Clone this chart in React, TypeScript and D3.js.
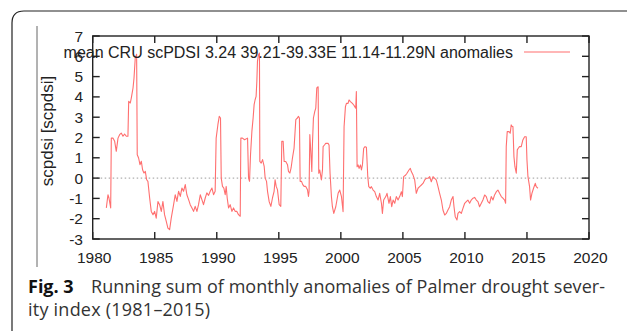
import React from "react";
import * as d3 from "d3";

// ---- data (decimal year, scPDSI running-sum anomaly) ----
const series1980s: [number, number][] = [
  [1981.10,-1.47],[1981.23,-0.82],[1981.31,-0.98],[1981.45,-1.47],[1981.50,1.97],[1981.63,1.97],[1981.77,1.81],[1981.90,1.32],
  [1982.04,1.97],[1982.17,2.14],[1982.30,2.22],[1982.44,2.06],[1982.57,2.17],[1982.71,2.06],[1982.84,2.06],[1982.90,3.78],
  [1983.03,3.70],[1983.11,3.94],[1983.25,4.44],[1983.33,4.93],[1983.43,5.92],[1983.54,6.1],[1983.59,1.15],[1983.70,0.99],
  [1983.81,0.66],[1983.92,0.83],[1984.02,0.41],[1984.13,0.25],[1984.24,0.33],[1984.35,-0.08],[1984.45,-0.16],[1984.59,-0.98],
  [1984.72,-1.64],[1984.86,-1.80],[1984.99,-1.64],[1985.12,-1.97],[1985.26,-1.15],[1985.39,-1.31],[1985.53,-1.64],[1985.66,-1.15],
  [1985.79,-1.80],[1985.93,-2.13],[1986.06,-2.46],[1986.20,-2.54],[1986.33,-1.97],[1986.52,-1.31],[1986.65,-0.82],[1986.79,-1.15],
  [1986.92,-0.65],[1987.06,-0.90],[1987.19,-0.49],[1987.32,-0.65],[1987.46,-0.32],[1987.59,-0.82],[1987.73,-1.06],[1987.86,-1.31],
  [1988.00,-1.47],[1988.13,-1.64],[1988.26,-1.39],[1988.40,-1.64],[1988.53,-1.31],[1988.67,-0.82],[1988.80,-1.06],[1988.93,-1.31],
  [1989.07,-0.98],[1989.20,-0.73],[1989.34,-0.85],[1989.47,-0.65],[1989.61,-0.49],[1989.74,-0.82],[1989.87,-0.65],[1989.95,1.97],
];
const series1990s: [number, number][] = [
  [1990.09,2.63],[1990.20,3.04],[1990.30,2.96],[1990.36,0.00],[1990.46,-0.41],[1990.57,-0.49],[1990.68,-0.82],[1990.76,-0.41],
  [1990.84,-0.98],[1990.95,-1.47],[1991.08,-1.31],[1991.22,-1.64],[1991.35,-1.47],[1991.48,-1.64],[1991.62,-1.64],[1991.75,-1.80],
  [1991.89,-1.88],[1991.94,1.97],[1992.07,1.97],[1992.24,1.89],[1992.48,1.97],[1992.56,0.00],[1992.64,-0.16],[1992.72,1.15],
  [1992.83,2.30],[1992.93,2.96],[1993.01,3.62],[1993.09,3.86],[1993.17,4.03],[1993.23,4.77],[1993.28,5.75],[1993.36,6.08],
  [1993.44,6.16],[1993.47,0.82],[1993.58,0.74],[1993.69,0.91],[1993.82,0.58],[1993.90,0.00],[1994.01,-0.16],[1994.09,-0.65],
  [1994.22,-1.15],[1994.36,-1.39],[1994.49,-0.98],[1994.62,-0.65],[1994.70,-0.08],[1994.79,-0.41],[1994.89,-0.57],[1995.03,-1.31],
  [1995.16,-1.39],[1995.24,1.81],[1995.35,1.81],[1995.43,0.82],[1995.56,0.82],[1995.70,0.66],[1995.78,0.33],[1995.89,0.25],
  [1995.99,0.50],[1996.10,0.99],[1996.23,1.48],[1996.37,2.88],[1996.50,2.96],[1996.58,3.04],[1996.66,2.96],[1996.72,-0.16],
  [1996.83,-0.16],[1996.93,-0.32],[1997.04,-0.41],[1997.17,-0.41],[1997.31,-0.57],[1997.39,-0.90],[1997.44,-0.65],[1997.50,2.14],
  [1997.58,1.32],[1997.66,0.33],[1997.71,1.65],[1997.79,2.96],[1997.90,3.29],[1997.98,3.45],[1998.06,4.44],[1998.17,4.50],
  [1998.22,0.24],[1998.30,0.40],[1998.43,-0.09],[1998.52,0.40],[1998.57,1.55],[1998.68,1.63],[1998.78,1.71],[1998.97,1.71],
  [1999.05,1.63],[1999.13,0.24],[1999.24,-0.91],[1999.32,-1.41],[1999.43,-1.74],[1999.59,-1.41],[1999.78,-0.75],[1999.91,-0.59],
];
const series2000s: [number, number][] = [
  [2000.05,-0.91],[2000.18,-1.65],[2000.26,2.53],[2000.37,3.52],[2000.45,3.68],[2000.58,3.68],[2000.66,3.85],[2000.77,3.77],
  [2000.93,3.68],[2001.04,3.60],[2001.12,3.52],[2001.20,3.44],[2001.25,4.26],[2001.31,0.56],[2001.39,0.65],[2001.47,0.48],
  [2001.58,0.65],[2001.66,0.40],[2001.74,0.65],[2001.84,1.47],[2001.95,1.55],[2002.06,1.52],[2002.17,0.07],[2002.25,-0.42],
  [2002.38,-0.50],[2002.46,-0.42],[2002.60,-0.59],[2002.73,-0.67],[2002.86,-0.91],[2003.00,-1.08],[2003.13,-0.75],[2003.27,-1.24],
  [2003.35,-1.74],[2003.45,-1.08],[2003.62,-0.91],[2003.72,-0.75],[2003.88,-1.24],[2003.99,-0.91],[2004.10,-1.41],[2004.21,-1.08],
  [2004.34,-1.24],[2004.47,-0.91],[2004.61,-1.08],[2004.74,-0.91],[2004.88,-0.67],[2004.96,-0.91],[2005.06,0.07],[2005.23,0.15],
  [2005.33,0.24],[2005.49,0.40],[2005.60,0.48],[2005.68,0.32],[2005.82,0.15],[2005.95,-0.09],[2006.08,-0.75],[2006.22,-0.50],
  [2006.35,-0.42],[2006.49,-0.34],[2006.62,-0.26],[2006.76,-0.09],[2006.89,-0.01],[2007.02,-0.01],[2007.16,0.07],[2007.29,-0.18],
  [2007.43,0.07],[2007.56,-0.01],[2007.69,-0.09],[2007.83,-0.42],[2007.96,-0.75],[2008.10,-1.08],[2008.23,-1.57],[2008.37,-1.82],
  [2008.50,-1.74],[2008.63,-1.57],[2008.77,-1.41],[2008.90,-1.08],[2009.04,-0.91],[2009.12,-1.41],[2009.22,-1.90],[2009.36,-2.06],
  [2009.44,-1.74],[2009.57,-1.65],[2009.71,-1.74],[2009.84,-1.49],[2009.98,-1.24],
];
const series2010s: [number, number][] = [
  [2010.11,-1.16],[2010.24,-1.08],[2010.38,-1.24],[2010.51,-1.08],[2010.65,-0.99],[2010.78,-0.95],[2010.92,-1.08],[2011.05,-1.16],
  [2011.18,-1.41],[2011.32,-1.24],[2011.45,-1.08],[2011.59,-0.83],[2011.72,-0.91],[2011.85,-1.16],[2011.99,-1.24],[2012.12,-0.91],
  [2012.26,-1.08],[2012.39,-0.83],[2012.53,-0.67],[2012.66,-0.59],[2012.79,-0.75],[2012.93,-0.91],[2013.06,-0.99],[2013.20,-1.08],
  [2013.28,-1.24],[2013.33,1.55],[2013.41,2.29],[2013.55,2.29],[2013.65,2.21],[2013.73,2.62],[2013.81,2.54],[2013.87,2.54],
  [2013.95,1.06],[2014.03,0.56],[2014.14,0.24],[2014.22,1.39],[2014.30,1.47],[2014.40,1.55],[2014.54,1.55],[2014.67,1.88],
  [2014.81,2.04],[2014.94,2.04],[2015.00,0.89],[2015.08,0.07],[2015.21,-0.42],[2015.29,-1.08],[2015.40,-0.75],[2015.53,-0.50],
  [2015.67,-0.26],[2015.75,-0.42],[2015.88,-0.50],
];

const xTickValues = [1980, 1985, 1990, 1995, 2000, 2005, 2010, 2015, 2020];
const yTickValues = [-3, -2, -1, 0, 1, 2, 3, 4, 5, 6, 7];
const legendLabel = "mean CRU scPDSI 3.24 39.21-39.33E 11.14-11.29N anomalies";
const yAxisLabel = "scpdsi [scpdsi]";
const captionBold = "Fig. 3";
const captionLine1 = "Running sum of monthly anomalies of Palmer drought sever-";
const captionLine2 = "ity index (1981–2015)";

const W = 627;
const H = 331;
const plot = { left: 92.7, right: 589, top: 36, bottom: 239 };
const lineColor = "#ff6f6f";
const axisFont = "'Liberation Sans', Arial, sans-serif";
const captionFont = "'Open Sans', 'Noto Sans', sans-serif";

export default function App() {
  const data = [...series1980s, ...series1990s, ...series2000s, ...series2010s];
  const x = d3.scaleLinear().domain([1980, 2020]).range([plot.left, plot.right]);
  const y = d3.scaleLinear().domain([-3, 7]).range([plot.bottom, plot.top]);
  const line = d3
    .line<[number, number]>()
    .x((d) => x(d[0]))
    .y((d) => y(d[1]));
  const tickLen = 7;

  return (
    <svg
      width={W}
      height={H}
      viewBox={`0 0 ${W} ${H}`}
      style={{ position: "absolute", left: 0, top: 0, background: "#fff" }}
    >
      {/* outer frame (top + left with rounded corner) */}
      <path
        d={`M 12 ${H} L 12 23 Q 12 11 24 11 L ${W} 11`}
        fill="none"
        stroke="#222"
        strokeWidth={1.2}
      />
      {/* image left edge */}
      <line x1={37} y1={26} x2={37} y2={267} stroke="#666" strokeWidth={1} />

      {/* zero line */}
      <line
        x1={plot.left}
        x2={plot.right}
        y1={y(0)}
        y2={y(0)}
        stroke="#999"
        strokeWidth={1}
        strokeDasharray="1.5,2.5"
      />

      {/* data */}
      <path d={line(data) ?? ""} fill="none" stroke={lineColor} strokeWidth={1.1} strokeLinejoin="round" />

      {/* frame */}
      <rect
        x={plot.left}
        y={plot.top}
        width={plot.right - plot.left}
        height={plot.bottom - plot.top}
        fill="none"
        stroke="#222"
        strokeWidth={1.4}
      />
      {/* x ticks */}
      {xTickValues.map((t) => (
        <g key={"xt" + t}>
          <line x1={x(t)} x2={x(t)} y1={plot.bottom} y2={plot.bottom - tickLen} stroke="#222" strokeWidth={1.4} />
          <line x1={x(t)} x2={x(t)} y1={plot.top} y2={plot.top + tickLen} stroke="#222" strokeWidth={1.4} />
          <text
            x={x(t) + 1.5}
            y={257}
            textAnchor="middle"
            dominantBaseline="central"
            fontFamily={axisFont}
            fontSize={15.5}
            fill="#222"
          >
            {t}
          </text>
        </g>
      ))}
      {/* y ticks */}
      {yTickValues.map((t) => (
        <g key={"yt" + t}>
          <line x1={plot.left} x2={plot.left + tickLen} y1={y(t)} y2={y(t)} stroke="#222" strokeWidth={1.4} />
          <line x1={plot.right} x2={plot.right - tickLen} y1={y(t)} y2={y(t)} stroke="#222" strokeWidth={1.4} />
          <text
            x={83}
            y={y(t)}
            textAnchor="end"
            dominantBaseline="central"
            fontFamily={axisFont}
            fontSize={15.5}
            fill="#222"
          >
            {t}
          </text>
        </g>
      ))}

      {/* y axis label */}
      <text
        transform={`translate(47, 131) rotate(-90)`}
        textAnchor="middle"
        dominantBaseline="central"
        fontFamily={axisFont}
        fontSize={17}
        fill="#222"
      >
        {yAxisLabel}
      </text>

      {/* legend */}
      <text
        x={513}
        y={52}
        textAnchor="end"
        dominantBaseline="central"
        fontFamily={axisFont}
        fontSize={16}
        fill="#222"
      >
        {legendLabel}
      </text>
      <line x1={524} x2={570} y1={52} y2={52} stroke={lineColor} strokeWidth={1.1} />

      {/* caption */}
      <text x={28} y={293} fontFamily={captionFont} fontSize={18} fill="#333">
        <tspan fontWeight="bold" fill="#111">{captionBold}</tspan>
        <tspan x={91} textLength={514} lengthAdjust="spacing">{captionLine1}</tspan>
      </text>
      <text x={28} y={316} fontFamily={captionFont} fontSize={18} fill="#333">
        <tspan textLength={182} lengthAdjust="spacing">{captionLine2}</tspan>
      </text>
    </svg>
  );
}
